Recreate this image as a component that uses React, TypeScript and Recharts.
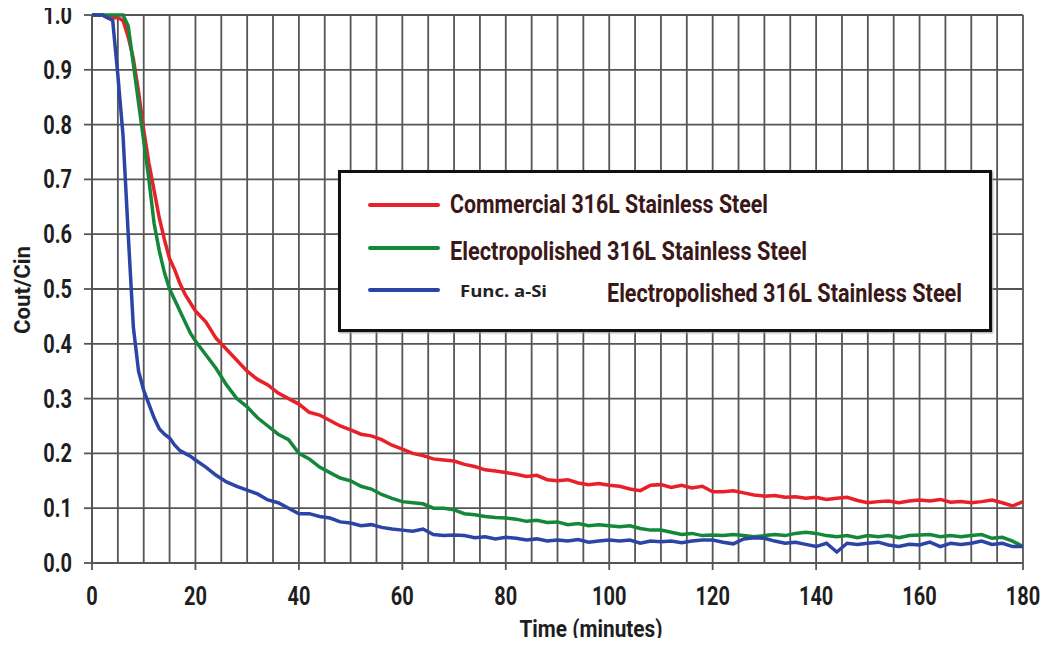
import { LineChart, Line, XAxis, YAxis, CartesianGrid, Label } from "recharts";

const minutes = [
  0, 1, 2, 3, 4, 5, 6, 7, 8, 9, 10, 11, 12, 13, 14, 15, 16, 17, 18, 19, 20,
  22, 24, 26, 28, 30, 32, 34, 36, 38, 40, 42, 44, 46, 48, 50, 52, 54, 56, 58,
  60, 62, 64, 66, 68, 70, 72, 74, 76, 78, 80, 82, 84, 86, 88, 90, 92, 94, 96, 98,
  100, 102, 104, 106, 108, 110, 112, 114, 116, 118, 120, 122, 124, 126, 128, 130,
  132, 134, 136, 138, 140, 142, 144, 146, 148, 150, 152, 154, 156, 158, 160, 162,
  164, 166, 168, 170, 172, 174, 176, 178, 180,
];

const commercial = [
  1.0, 1.0, 1.0, 0.995, 0.995, 0.995, 0.99, 0.96, 0.92, 0.86, 0.79, 0.73, 0.68, 0.63, 0.59, 0.555, 0.535, 0.51, 0.49, 0.475, 0.46,
  0.44, 0.41, 0.39, 0.37, 0.35, 0.335, 0.325, 0.31, 0.3, 0.29, 0.275, 0.27, 0.26, 0.25, 0.243, 0.235, 0.232, 0.225, 0.215,
  0.208, 0.2, 0.196, 0.19, 0.188, 0.186, 0.18, 0.176, 0.17, 0.168, 0.165, 0.162, 0.158, 0.16, 0.152, 0.15, 0.152, 0.146, 0.143, 0.145,
  0.142, 0.14, 0.135, 0.132, 0.142, 0.143, 0.138, 0.142, 0.137, 0.14, 0.13, 0.13, 0.132, 0.128, 0.124, 0.122,
  0.123, 0.12, 0.121, 0.118, 0.12, 0.116, 0.118, 0.12, 0.114, 0.11, 0.112, 0.113, 0.11, 0.113, 0.115, 0.113,
  0.116, 0.111, 0.112, 0.11, 0.112, 0.115, 0.11, 0.104, 0.112,
];

const electropolished = [
  1.0, 1.0, 1.0, 1.0, 1.0, 1.0, 1.0, 0.98, 0.91, 0.84, 0.77, 0.7, 0.62, 0.57, 0.53, 0.5, 0.48, 0.46, 0.44, 0.42, 0.405,
  0.38, 0.355, 0.325, 0.3, 0.285, 0.265, 0.25, 0.235, 0.225, 0.2, 0.19, 0.175, 0.165, 0.155, 0.15, 0.14, 0.135, 0.125, 0.118,
  0.112, 0.11, 0.108, 0.1, 0.1, 0.097, 0.09, 0.088, 0.085, 0.083, 0.082, 0.08, 0.076, 0.078, 0.074, 0.075, 0.07, 0.072, 0.068, 0.07,
  0.068, 0.066, 0.068, 0.063, 0.06, 0.06, 0.056, 0.052, 0.054, 0.05, 0.051, 0.05, 0.052, 0.05, 0.048, 0.05,
  0.052, 0.05, 0.054, 0.056, 0.054, 0.05, 0.048, 0.05, 0.046, 0.05, 0.048, 0.05, 0.046, 0.05, 0.051, 0.052,
  0.048, 0.05, 0.048, 0.05, 0.052, 0.045, 0.047, 0.04, 0.03,
];

const funcASi = [
  1.0, 1.0, 1.0, 0.995, 0.99, 0.89, 0.78, 0.6, 0.43, 0.35, 0.315, 0.29, 0.265, 0.245, 0.235, 0.228, 0.215, 0.205, 0.2, 0.195, 0.188,
  0.175, 0.16, 0.148, 0.14, 0.133, 0.126, 0.115, 0.11, 0.1, 0.09, 0.09, 0.085, 0.082, 0.075, 0.073, 0.068, 0.07, 0.065, 0.062,
  0.06, 0.058, 0.062, 0.052, 0.05, 0.051, 0.05, 0.046, 0.048, 0.044, 0.047, 0.045, 0.042, 0.044, 0.04, 0.042, 0.04, 0.043, 0.038, 0.04,
  0.042, 0.04, 0.042, 0.036, 0.04, 0.039, 0.04, 0.037, 0.04, 0.042, 0.042, 0.038, 0.035, 0.044, 0.046, 0.045,
  0.04, 0.036, 0.038, 0.034, 0.03, 0.036, 0.02, 0.036, 0.034, 0.036, 0.038, 0.033, 0.03, 0.034, 0.033, 0.038,
  0.03, 0.036, 0.034, 0.036, 0.04, 0.034, 0.036, 0.03, 0.03,
];

const xGridTicks = [
  0, 5, 10, 15, 20, 25, 30, 35, 40, 45, 50, 55, 60, 65, 70, 75, 80, 85, 90,
  95, 100, 105, 110, 115, 120, 125, 130, 135, 140, 145, 150, 155, 160, 165, 170, 175, 180,
];
const xLabelTicks = [0, 20, 40, 60, 80, 100, 120, 140, 160, 180];
const yTicks = [0, 0.1, 0.2, 0.3, 0.4, 0.5, 0.6, 0.7, 0.8, 0.9, 1.0];

const data = minutes.map((t, i) => ({
  t,
  commercial: commercial[i],
  electropolished: electropolished[i],
  funcASi: funcASi[i],
}));

const FONT = "Roboto, sans-serif";
const GRID = "#555";
const INK = "#1e1e1e";

const XTick = (props: any) => {
  const { x, y, payload } = props;
  if (!xLabelTicks.includes(payload.value)) return null;
  return (
    <g transform={`translate(${x},${y})`}>
      <line x1={0} x2={0} y1={0} y2={7} stroke={GRID} strokeWidth={1.8} />
      <text transform="scale(0.8,1)" y={42} textAnchor="middle" fill={INK} fontSize={25} fontWeight={700} fontFamily={FONT}>
        {payload.value}
      </text>
    </g>
  );
};

const YTick = (props: any) => {
  const { x, y, payload } = props;
  return (
    <g transform={`translate(${x},${y})`}>
      <line x1={-8} x2={0} y1={0} y2={0} stroke={GRID} strokeWidth={1.8} />
      <g transform="translate(-20,0)">
        <text transform="scale(0.8,1)" y={9} textAnchor="end" fill={INK} fontSize={25} fontWeight={700} fontFamily={FONT}>
          {Number(payload.value).toFixed(1)}
        </text>
      </g>
    </g>
  );
};

const legendText = { fill: "#3a1818", fontSize: 25, fontWeight: 700, fontFamily: FONT };

export default function App() {
  return (
    <div style={{ position: "relative", width: 1050, height: 646, margin: -8, background: "#fff" }}>
      <LineChart width={1050} height={646} data={data} margin={{ top: 15, right: 27, bottom: 0, left: 0 }}>
        <CartesianGrid stroke={GRID} strokeWidth={1.8} />
        <XAxis
          dataKey="t"
          type="number"
          domain={[0, 180]}
          ticks={xGridTicks}
          interval={0}
          axisLine={{ stroke: GRID, strokeWidth: 1.8 }}
          tickLine={false}
          tickSize={0}
          tickMargin={0}
          tick={<XTick />}
          height={83}
        >
          <Label
            content={() => (
              <text x={591} y={637} textAnchor="middle" textLength={143} lengthAdjust="spacingAndGlyphs" fill={INK} fontSize={23} fontWeight={700} fontFamily={FONT}>
                Time (minutes)
              </text>
            )}
          />
        </XAxis>
        <YAxis
          type="number"
          domain={[0, 1]}
          ticks={yTicks}
          interval={0}
          width={92}
          axisLine={{ stroke: GRID, strokeWidth: 1.8 }}
          tickLine={false}
          tickSize={0}
          tickMargin={0}
          tick={<YTick />}
        >
          <Label
            content={() => (
              <text
                x={30}
                y={290}
                transform="rotate(-90 30 290)"
                textAnchor="middle"
                textLength={88}
                lengthAdjust="spacingAndGlyphs"
                fill={INK}
                fontSize={22}
                fontWeight={700}
                fontFamily={FONT}
              >
                Cout/Cin
              </text>
            )}
          />
        </YAxis>
        <Line dataKey="commercial" stroke="#e8202a" strokeWidth={3.5} dot={false} isAnimationActive={false} />
        <Line dataKey="electropolished" stroke="#15873a" strokeWidth={3.5} dot={false} isAnimationActive={false} />
        <Line dataKey="funcASi" stroke="#2c44a6" strokeWidth={3.5} dot={false} isAnimationActive={false} />
      </LineChart>
      <svg
        width={654}
        height={162}
        style={{ position: "absolute", left: 338, top: 170, background: "#fff", boxShadow: "1px 1px 2px #999" }}
      >
        <rect x={1.5} y={1.5} width={651} height={159} fill="#fff" stroke="#111" strokeWidth={3} />
        <line x1={32} x2={100} y1={35} y2={35} stroke="#e8202a" strokeWidth={4} strokeLinecap="round" />
        <line x1={32} x2={100} y1={78} y2={78} stroke="#15873a" strokeWidth={4} strokeLinecap="round" />
        <line x1={32} x2={100} y1={120} y2={120} stroke="#2c44a6" strokeWidth={4} strokeLinecap="round" />
        <text x={112} y={43} textLength={318} lengthAdjust="spacingAndGlyphs" {...legendText}>
          Commercial 316L Stainless Steel
        </text>
        <text x={112} y={90} textLength={357} lengthAdjust="spacingAndGlyphs" {...legendText}>
          Electropolished 316L Stainless Steel
        </text>
        <text x={122} y={127} textLength={87} lengthAdjust="spacingAndGlyphs" fill="#222" fontSize={16} fontWeight={700} fontFamily='"Open Sans", sans-serif'>
          Func. a-Si
        </text>
        <text x={269} y={132} textLength={355} lengthAdjust="spacingAndGlyphs" {...legendText}>
          Electropolished 316L Stainless Steel
        </text>
      </svg>
    </div>
  );
}
